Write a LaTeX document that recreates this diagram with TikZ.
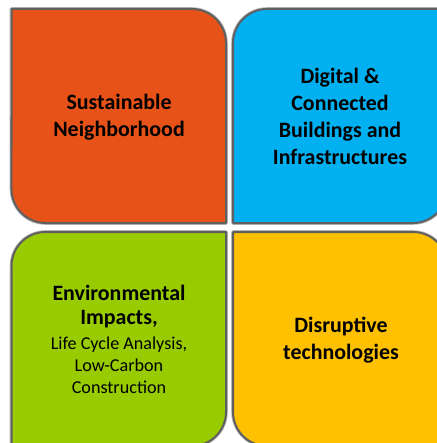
\documentclass[tikz,border=0pt]{standalone}
\usepackage{fontspec}
\setmainfont{Carlito}
\definecolor{cOrange}{HTML}{E65217}
\definecolor{cBlue}{HTML}{00B0F0}
\definecolor{cGreen}{HTML}{99CC00}
\definecolor{cYellow}{HTML}{FFC000}
\definecolor{cEdge}{HTML}{606060}
\definecolor{cHalo}{HTML}{B8B8B8}
\tikzset{
  tilehalo/.style={draw=cHalo, line width=3.6bp, line join=round},
  tileedge/.style={draw=cEdge, line width=2bp, line join=round},
  bigtext/.style={align=center, font=\fontsize{22}{27}\selectfont\bfseries, text=black, inner sep=0pt},
  smalltext/.style={align=center, font=\fontsize{18.2}{22}\selectfont, text=black, inner sep=0pt},
}
% diagonal-rounded tiles
\newcommand{\tileA}[5]{% L T R B colour : rounded top-right & bottom-left
  \path[tilehalo] (#1,-#2) -- ({#3-34},-#2) arc[start angle=90,end angle=0,radius=34bp]
    -- (#3,-#4) -- ({#1+34},-#4) arc[start angle=270,end angle=180,radius=34bp] -- cycle;
  \path[tileedge, fill=#5] (#1,-#2) -- ({#3-34},-#2) arc[start angle=90,end angle=0,radius=34bp]
    -- (#3,-#4) -- ({#1+34},-#4) arc[start angle=270,end angle=180,radius=34bp] -- cycle;}
\newcommand{\tileB}[5]{% L T R B colour : rounded top-left & bottom-right
  \path[tilehalo] (#1,{-#2-34}) arc[start angle=180,end angle=90,radius=34bp] -- (#3,-#2)
    -- (#3,{-#4+34}) arc[start angle=0,end angle=-90,radius=34bp] -- (#1,-#4) -- cycle;
  \path[tileedge, fill=#5] (#1,{-#2-34}) arc[start angle=180,end angle=90,radius=34bp] -- (#3,-#2)
    -- (#3,{-#4+34}) arc[start angle=0,end angle=-90,radius=34bp] -- (#1,-#4) -- cycle;}
\begin{document}
\begin{tikzpicture}[x=1bp,y=1bp]
\useasboundingbox (0,0) rectangle (437,-443);
\fill[white] (0,0) rectangle (437,-443);
\begin{scope}
\clip (0,0) rectangle (437,-443);
\tileA{11.5}{9}{226}{223}{cOrange}
\tileB{233}{9}{447}{223}{cBlue}
\tileB{11.5}{232}{226}{446}{cGreen}
\tileA{233}{232}{447}{446}{cYellow}
\end{scope}
\node[bigtext] (sn) at (119,-117) {Sustainable\\Neighborhood};
\node[bigtext] (dc) at (340,-116.5) {Digital \&\\Connected\\Buildings and\\Infrastructures};
\node[bigtext, font=\fontsize{22}{24.5}\selectfont\bfseries] (ei) at (119,-306.5) {Environmental\\Impacts,};
\node[smalltext] (lca) at (119,-365.5) {Life Cycle Analysis,\\Low-Carbon\\Construction};
\node[bigtext] (dt) at (341,-340) {Disruptive\\technologies};
\end{tikzpicture}
\end{document}
